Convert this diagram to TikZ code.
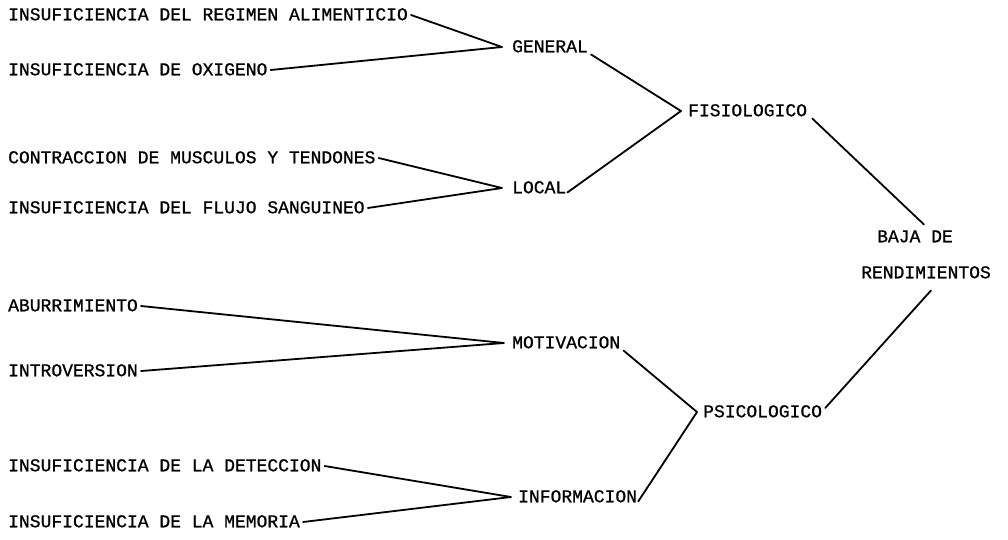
\documentclass[tikz,border=0pt]{standalone}
\usepackage{fontspec}
\newfontfamily\typew[FakeBold=0.9]{Liberation Mono}
\begin{document}
\begin{tikzpicture}[x=1pt,y=1pt,
  lbl/.style={font=\typew\fontsize{18}{18}\selectfont, anchor=west, inner xsep=3pt, inner ysep=0pt, text height=10.5pt, text depth=0pt},
  conn/.style={line width=1.8pt, line cap=round, line join=round}]
\useasboundingbox (0,0) rectangle (1008,-539);
% left causes
\node[lbl] (reg) at (5,-15) {INSUFICIENCIA DEL REGIMEN ALIMENTICIO};
\node[lbl] (oxi) at (5,-70) {INSUFICIENCIA DE OXIGENO};
\node[lbl] (con) at (5,-158) {CONTRACCION DE MUSCULOS Y TENDONES};
\node[lbl] (flu) at (5,-208) {INSUFICIENCIA DEL FLUJO SANGUINEO};
\node[lbl] (abu) at (5,-306) {ABURRIMIENTO};
\node[lbl] (int) at (5,-371) {INTROVERSION};
\node[lbl] (det) at (5,-466) {INSUFICIENCIA DE LA DETECCION};
\node[lbl] (mem) at (5,-522) {INSUFICIENCIA DE LA MEMORIA};
% middle
\node[lbl] (gen) at (509,-47) {GENERAL};
\node[lbl] (loc) at (509,-188) {LOCAL};
\node[lbl] (mot) at (509,-343) {MOTIVACION};
\node[lbl] (inf) at (515,-497) {INFORMACION};
% right
\node[lbl] (fis) at (685,-111) {FISIOLOGICO};
\node[lbl] (psi) at (700,-412) {PSICOLOGICO};
\node[lbl, anchor=center] (bajaA) at (915,-237) {BAJA DE};
\node[lbl, anchor=center] (bajaB) at (926,-273) {RENDIMIENTOS};
% connectors
\draw[conn] (reg.east) -- ([xshift=-7pt]gen.west) -- (oxi.east);
\draw[conn] (con.east) -- ([xshift=-7pt]loc.west) -- (flu.east);
\draw[conn] (abu.east) -- ([xshift=-5pt]mot.west) -- (int.east);
\draw[conn] (det.east) -- ([xshift=-4pt]inf.west) -- (mem.east);
\draw[conn] ([yshift=-2pt]gen.south east) -- ([xshift=-4pt]fis.west) -- ([xshift=-2pt,yshift=1pt]loc.south east);
\draw[conn] ([yshift=-2pt]mot.south east) -- ([xshift=-3pt]psi.west) -- ([xshift=-2pt,yshift=1pt]inf.south east);
\draw[conn] ([xshift=2pt,yshift=-2pt]fis.south east) -- ([xshift=9pt,yshift=7pt]bajaA.north);
\draw[conn] ([yshift=4pt]psi.east) -- ([xshift=5pt,yshift=-12pt]bajaB.south);
\end{tikzpicture}
\end{document}
